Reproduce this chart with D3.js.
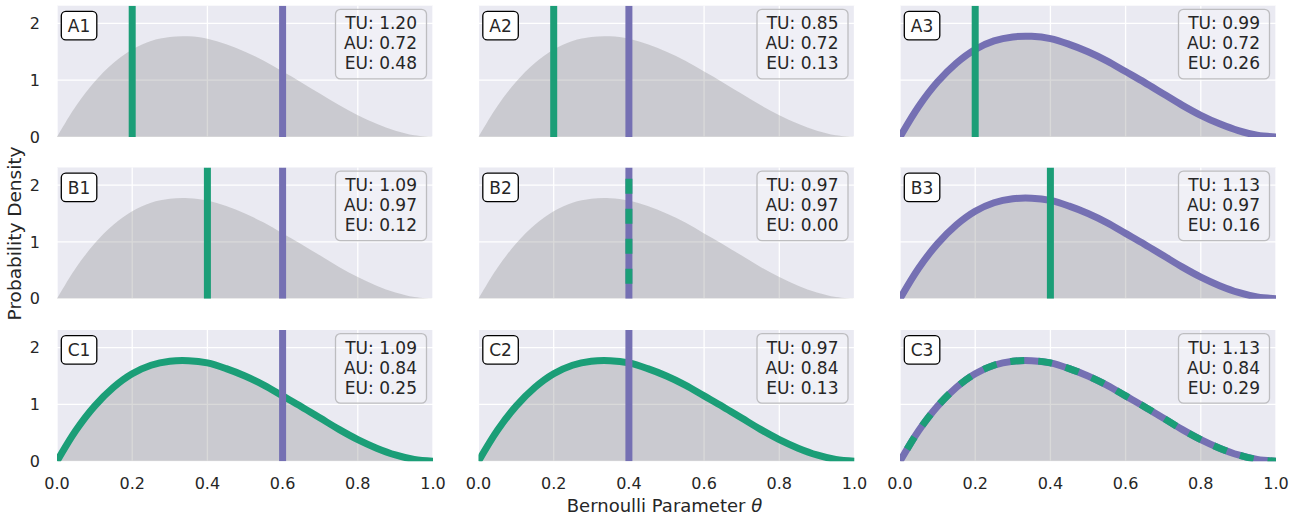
<!DOCTYPE html>
<html>
<head>
<meta charset="utf-8">
<script src="https://cdn.jsdelivr.net/npm/d3@7"></script>
<style>
  html, body { margin: 0; padding: 0; background: #ffffff; }
  svg { display: block; }
  text { font-family: "DejaVu Sans", sans-serif; fill: #262626; }
</style>
</head>
<body>
<svg id="chart" width="1303" height="517"></svg>
<script>
// ---------------- data ----------------
const panelIds = ["A1", "A2", "A3", "B1", "B2", "B3", "C1", "C2", "C3"];
const tuValues = [1.20, 0.85, 0.99, 1.09, 0.97, 1.13, 1.09, 0.97, 1.13];
const auValues = [0.72, 0.72, 0.72, 0.97, 0.97, 0.97, 0.84, 0.84, 0.84];
const euValues = [0.48, 0.13, 0.26, 0.12, 0.00, 0.16, 0.25, 0.13, 0.29];
// green / purple: a number = vertical line at that θ, "curve" = the density curve
const greenMarks  = [0.2, 0.2, 0.2, 0.4, 0.4, 0.4, "curve", "curve", "curve"];
const purpleMarks = [0.6, 0.4, "curve", 0.6, 0.4, "curve", 0.6, 0.4, "curve"];
// density curve
const thetaGrid = [0.00, 0.05, 0.10, 0.15, 0.20, 0.25, 0.30, 0.35, 0.40, 0.45, 0.50,
                   0.55, 0.60, 0.65, 0.70, 0.75, 0.80, 0.85, 0.90, 0.95, 1.00];
const densityVals = [0.00, 0.54, 0.97, 1.30, 1.54, 1.69, 1.76, 1.77, 1.73, 1.63, 1.50,
                     1.34, 1.15, 0.96, 0.76, 0.56, 0.38, 0.23, 0.11, 0.03, 0.00];
const xTicks = [0.0, 0.2, 0.4, 0.6, 0.8, 1.0];
const yTicks = [0, 1, 2];
const xLabel = "Bernoulli Parameter ";
const xLabelSymbol = "θ";
const yLabel = "Probability Density";

// ---------------- layout ----------------
const GREEN = "#1b9e77", PURPLE = "#7570b3";
const colLeft = [57, 478.5, 900];
const panelW = 376;
const rowTop = [5.7, 167.5, 330];
const panelH = 131.2;
const yMax = 2.31;

const svg = d3.select("#chart");
const defs = svg.append("defs");
const curvePts = thetaGrid.map((t, i) => [t, densityVals[i]]);
const smooth = d3.curveCatmullRom.alpha(0.5);

panelIds.forEach((id, i) => {
  const r = Math.floor(i / 3), c = i % 3;
  const x0 = colLeft[c], y0 = rowTop[r];
  const x = d3.scaleLinear().domain([0, 1]).range([x0, x0 + panelW]);
  const y = d3.scaleLinear().domain([0, yMax]).range([y0 + panelH, y0]);

  const g = svg.append("g");
  defs.append("clipPath").attr("id", "clip" + i)
    .append("rect").attr("x", x0).attr("y", y0).attr("width", panelW).attr("height", panelH);

  // background
  g.append("rect").attr("x", x0).attr("y", y0).attr("width", panelW).attr("height", panelH)
    .attr("fill", "#EAEAF2");
  // grid
  g.selectAll(".gx").data(xTicks).enter().append("line")
    .attr("x1", d => x(d)).attr("x2", d => x(d)).attr("y1", y0).attr("y2", y0 + panelH)
    .attr("stroke", "#ffffff").attr("stroke-width", 1.3);
  g.selectAll(".gy").data(yTicks).enter().append("line")
    .attr("x1", x0).attr("x2", x0 + panelW).attr("y1", d => y(d)).attr("y2", d => y(d))
    .attr("stroke", "#ffffff").attr("stroke-width", 1.3);

  const clipped = g.append("g").attr("clip-path", `url(#clip${i})`);
  // filled density
  const area = d3.area().x(d => x(d[0])).y0(y(0)).y1(d => y(d[1])).curve(smooth);
  clipped.append("path").datum(curvePts).attr("d", area)
    .attr("fill", "#808080").attr("fill-opacity", 0.3);

  const line = d3.line().x(d => x(d[0])).y(d => y(d[1])).curve(smooth);
  const gm = greenMarks[i], pm = purpleMarks[i];
  const LW = 7;
  // curves first
  if (pm === "curve") {
    clipped.append("path").datum(curvePts).attr("d", line)
      .attr("fill", "none").attr("stroke", PURPLE).attr("stroke-width", LW);
  }
  if (gm === "curve") {
    const p = clipped.append("path").datum(curvePts).attr("d", line)
      .attr("fill", "none").attr("stroke", GREEN).attr("stroke-width", LW);
    if (pm === "curve") p.attr("stroke-dasharray", "14 14").attr("stroke-dashoffset", 14);
  }
  // vertical lines
  if (typeof pm === "number") {
    clipped.append("line").attr("x1", x(pm)).attr("x2", x(pm))
      .attr("y1", y(0)).attr("y2", y(yMax))
      .attr("stroke", PURPLE).attr("stroke-width", LW);
  }
  if (typeof gm === "number") {
    const l = clipped.append("line").attr("x1", x(gm)).attr("x2", x(gm))
      .attr("y1", y(0)).attr("y2", y(yMax))
      .attr("stroke", GREEN).attr("stroke-width", LW);
    if (gm === pm) l.attr("stroke-dasharray", "15 15").attr("stroke-dashoffset", 15);
  }

  // y tick labels on left column
  if (c === 0) {
    g.selectAll(".yt").data(yTicks).enter().append("text")
      .attr("x", x0 - 17).attr("y", d => y(d)).attr("dy", "0.36em")
      .attr("text-anchor", "end").attr("font-size", 16).text(d => d);
  }
  // x tick labels on bottom row
  if (r === 2) {
    g.selectAll(".xt").data(xTicks).enter().append("text")
      .attr("x", d => x(d)).attr("y", y0 + panelH + 28)
      .attr("text-anchor", "middle").attr("font-size", 16).text(d => d.toFixed(1));
  }

  // panel id label
  const lab = g.append("g");
  lab.append("text").attr("x", x0 + 22).attr("y", y0 + 20).attr("dy", "0.36em")
    .attr("text-anchor", "middle").attr("font-size", 17).text(id);
  lab.insert("rect", "text")
    .attr("x", x0 + 4.3).attr("y", y0 + 5.6).attr("width", 35.5).attr("height", 28.6)
    .attr("rx", 4.5).attr("fill", "#ffffff").attr("stroke", "#000000").attr("stroke-width", 1.3);

  // stats box
  const sb = g.append("g");
  const lines = [`TU: ${tuValues[i].toFixed(2)}`, `AU: ${auValues[i].toFixed(2)}`, `EU: ${euValues[i].toFixed(2)}`];
  const txt = sb.append("text").attr("font-size", 17).attr("text-anchor", "end");
  lines.forEach((s, k) => {
    txt.append("tspan").attr("x", x0 + panelW - 16).attr("y", y0 + 23.5 + k * 20).text(s);
  });
  sb.insert("rect", "text")
    .attr("x", x0 + panelW - 97.5).attr("y", y0 + 3.6).attr("width", 91).attr("height", 69.6)
    .attr("rx", 5).attr("fill", "#ffffff").attr("fill-opacity", 0.3)
    .attr("stroke", "#bdbdc0").attr("stroke-width", 1.3);
});

// axis labels
const xl = svg.append("text").attr("x", colLeft[1] + panelW / 2 - 2).attr("y", 512)
  .attr("text-anchor", "middle").attr("font-size", 18);
xl.append("tspan").text(xLabel);
xl.append("tspan").attr("font-style", "italic").text(xLabelSymbol);
svg.append("text").attr("transform", `translate(20.5, ${(rowTop[0] + rowTop[2] + panelH) / 2}) rotate(-90)`)
  .attr("text-anchor", "middle").attr("font-size", 18.5).text(yLabel);
</script>
</body>
</html>
